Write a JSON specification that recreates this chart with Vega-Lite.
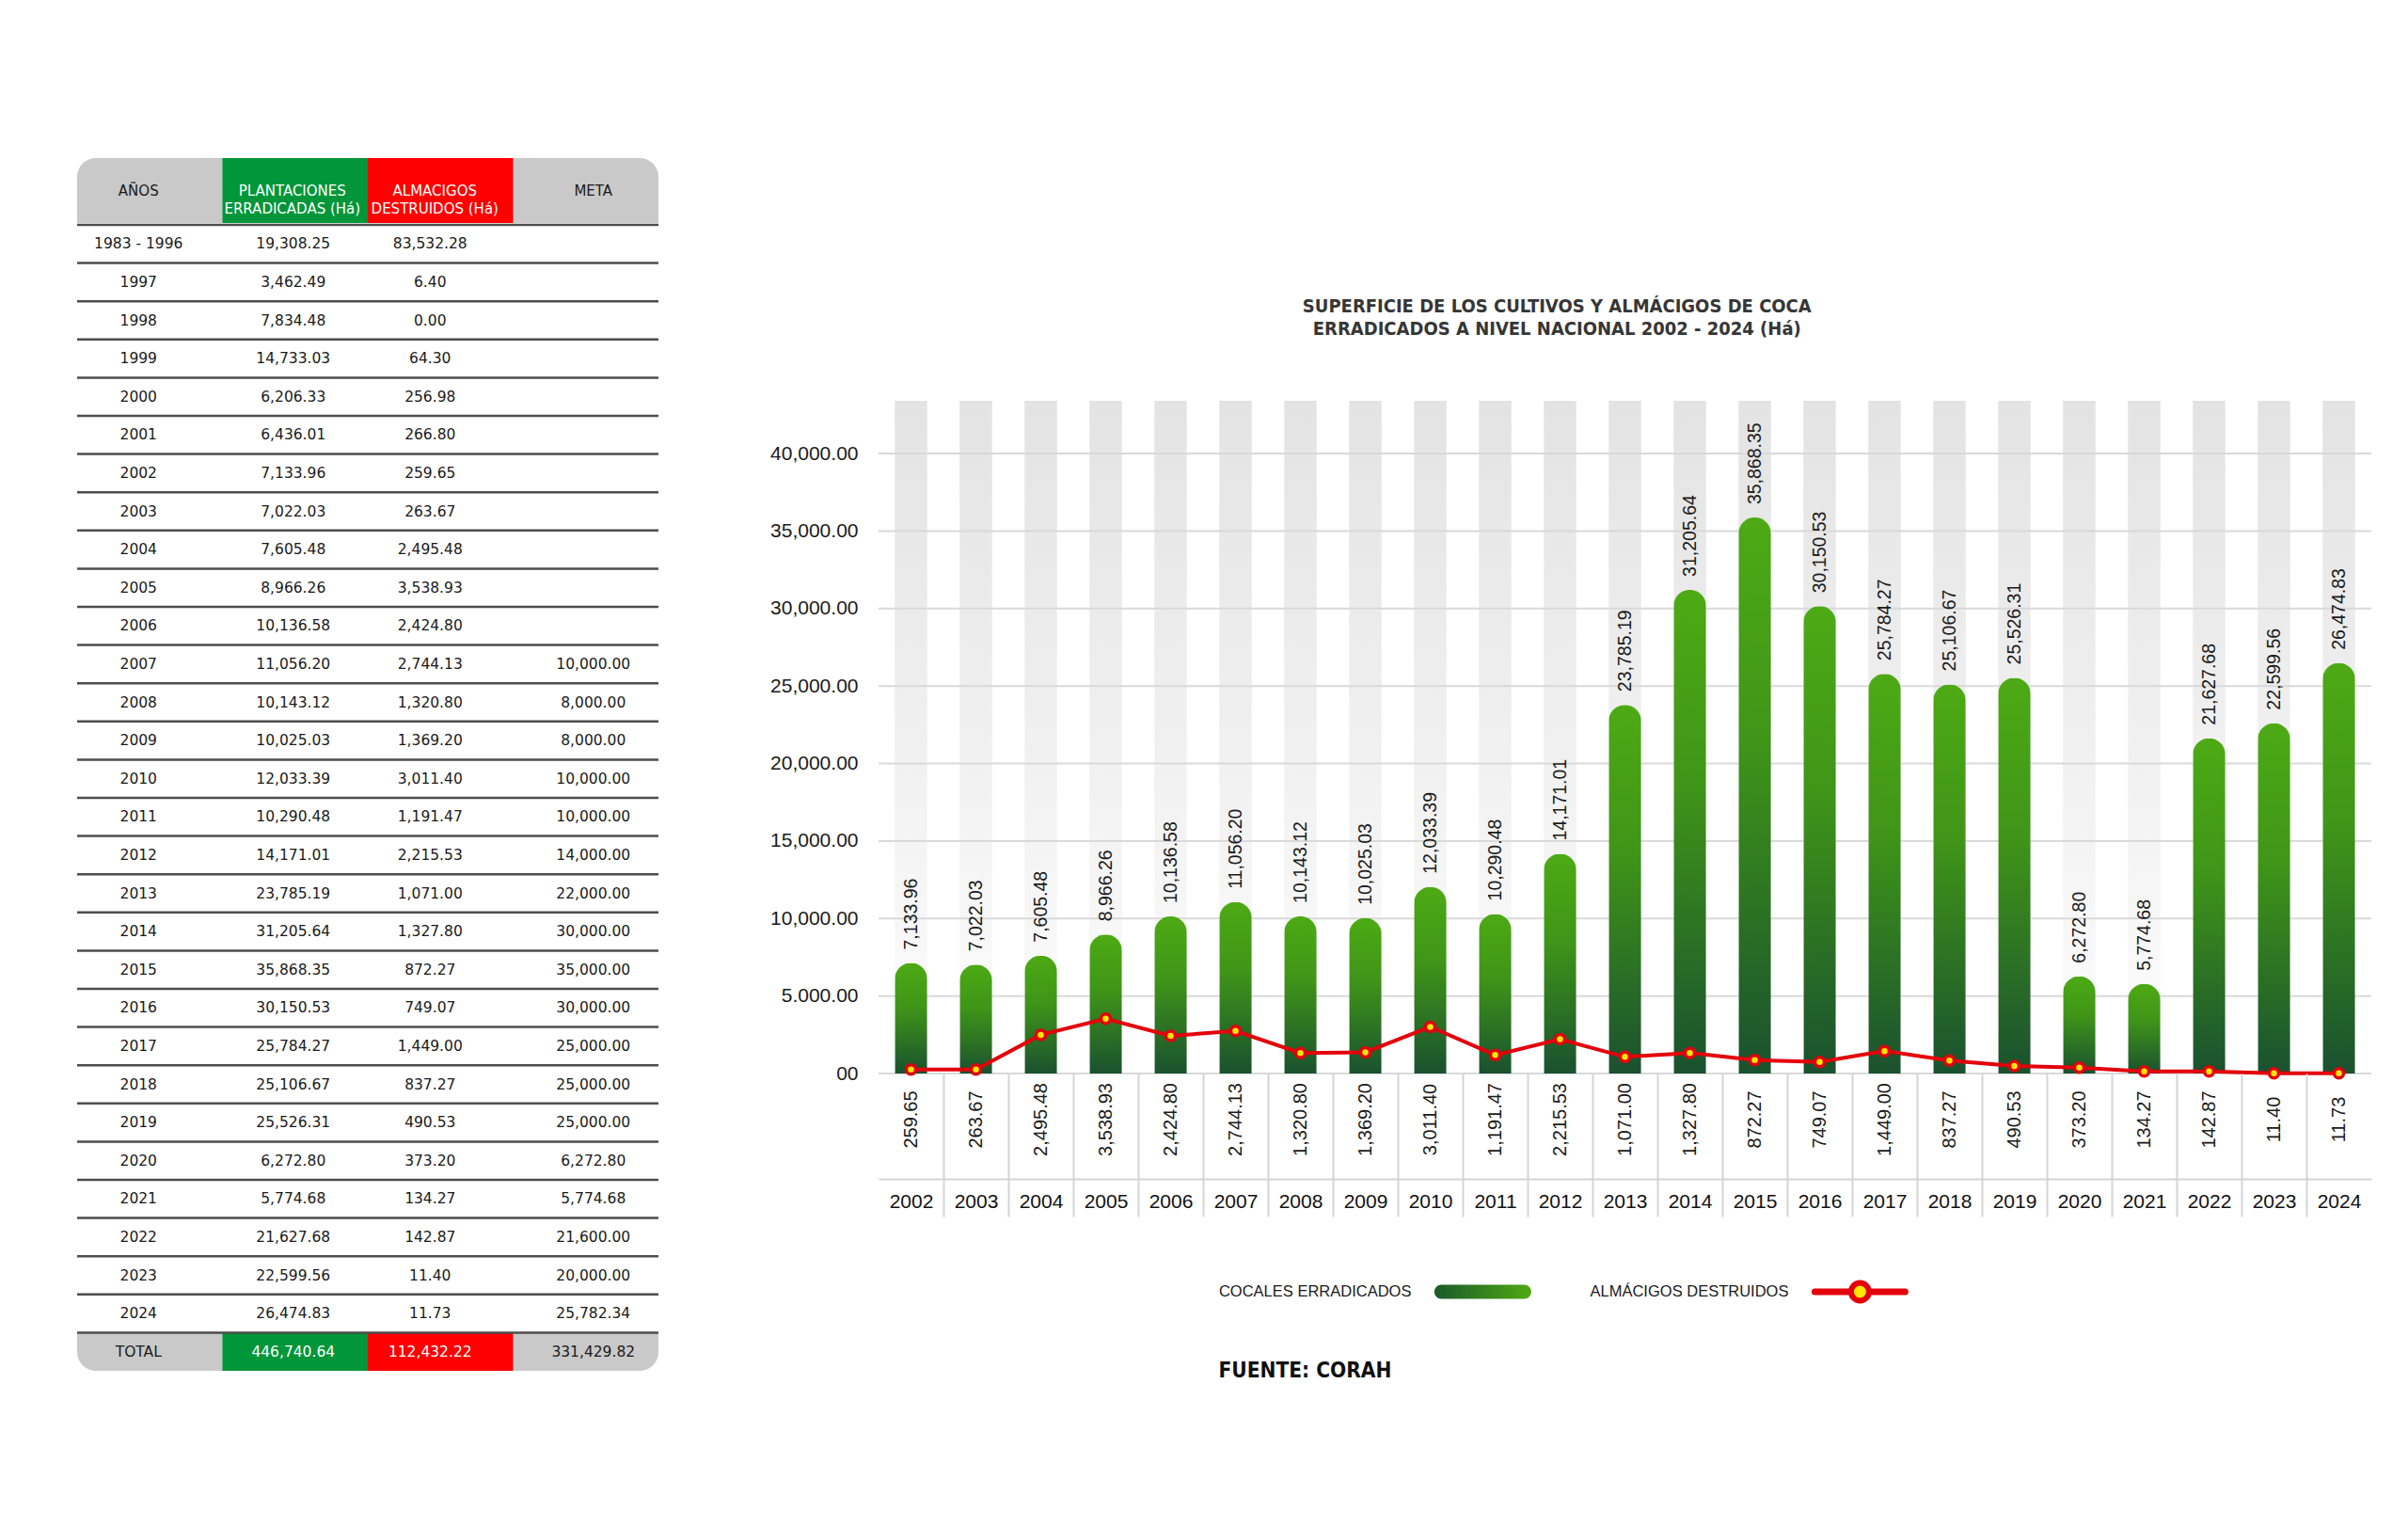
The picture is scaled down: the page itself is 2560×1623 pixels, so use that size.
{
  "$schema": "https://vega.github.io/schema/vega-lite/v6.json",
  "background": "white",
  "padding": {"top": 168, "left": 80, "right": 0, "bottom": 0},
  "config": {"view": {"stroke": null}},
  "datasets": {
    "tabla": [
      {"anio": "1983 - 1996", "plant": 19308.25, "alm": 83532.28, "meta": null},
      {"anio": "1997", "plant": 3462.49, "alm": 6.40, "meta": null},
      {"anio": "1998", "plant": 7834.48, "alm": 0.00, "meta": null},
      {"anio": "1999", "plant": 14733.03, "alm": 64.30, "meta": null},
      {"anio": "2000", "plant": 6206.33, "alm": 256.98, "meta": null},
      {"anio": "2001", "plant": 6436.01, "alm": 266.80, "meta": null},
      {"anio": "2002", "plant": 7133.96, "alm": 259.65, "meta": null},
      {"anio": "2003", "plant": 7022.03, "alm": 263.67, "meta": null},
      {"anio": "2004", "plant": 7605.48, "alm": 2495.48, "meta": null},
      {"anio": "2005", "plant": 8966.26, "alm": 3538.93, "meta": null},
      {"anio": "2006", "plant": 10136.58, "alm": 2424.80, "meta": null},
      {"anio": "2007", "plant": 11056.20, "alm": 2744.13, "meta": 10000},
      {"anio": "2008", "plant": 10143.12, "alm": 1320.80, "meta": 8000},
      {"anio": "2009", "plant": 10025.03, "alm": 1369.20, "meta": 8000},
      {"anio": "2010", "plant": 12033.39, "alm": 3011.40, "meta": 10000},
      {"anio": "2011", "plant": 10290.48, "alm": 1191.47, "meta": 10000},
      {"anio": "2012", "plant": 14171.01, "alm": 2215.53, "meta": 14000},
      {"anio": "2013", "plant": 23785.19, "alm": 1071.00, "meta": 22000},
      {"anio": "2014", "plant": 31205.64, "alm": 1327.80, "meta": 30000},
      {"anio": "2015", "plant": 35868.35, "alm": 872.27, "meta": 35000},
      {"anio": "2016", "plant": 30150.53, "alm": 749.07, "meta": 30000},
      {"anio": "2017", "plant": 25784.27, "alm": 1449.00, "meta": 25000},
      {"anio": "2018", "plant": 25106.67, "alm": 837.27, "meta": 25000},
      {"anio": "2019", "plant": 25526.31, "alm": 490.53, "meta": 25000},
      {"anio": "2020", "plant": 6272.80, "alm": 373.20, "meta": 6272.80},
      {"anio": "2021", "plant": 5774.68, "alm": 134.27, "meta": 5774.68},
      {"anio": "2022", "plant": 21627.68, "alm": 142.87, "meta": 21600},
      {"anio": "2023", "plant": 22599.56, "alm": 11.40, "meta": 20000},
      {"anio": "2024", "plant": 26474.83, "alm": 11.73, "meta": 25782.34},
      {"anio": "TOTAL", "plant": 446740.64, "alm": 112432.22, "meta": 331429.82}
    ]
  },
  "spacing": 116,
  "hconcat": [
    {
      "spacing": 0,
      "vconcat": [
        {
          "width": 618,
          "height": 69,
          "data": {"values": [
            {"c": "anio", "t": "AÑOS"},
            {"c": "plant", "t": "PLANTACIONES\nERRADICADAS (Há)"},
            {"c": "alm", "t": "ALMACIGOS\nDESTRUIDOS (Há)"},
            {"c": "meta", "t": "META"}
          ]},
          "layer": [
            {
              "transform": [{"filter": "datum.c == 'anio'"}],
              "mark": {"type": "rect", "color": "#c9c9c9", "cornerRadiusTopLeft": 20, "cornerRadiusTopRight": 20},
              "encoding": {}
            },
            {
              "transform": [{"filter": "datum.c == 'plant' || datum.c == 'alm'"}],
              "mark": {"type": "rect"},
              "encoding": {
                "x": {"field": "c", "type": "nominal", "sort": null, "scale": {"domain": ["anio", "plant", "alm", "meta"], "paddingInner": 0, "paddingOuter": 0}, "axis": null},
                "color": {"field": "c", "type": "nominal", "scale": {"domain": ["plant", "alm"], "range": ["#009639", "#ff0000"]}, "legend": null}
              }
            },
            {
              "transform": [{"filter": "datum.c == 'anio'"}],
              "mark": {"type": "text", "font": "DejaVu Sans", "fontSize": 15, "color": "#1a1a1a", "dx": -12},
              "encoding": {"x": {"field": "c", "type": "nominal", "sort": null}, "text": {"field": "t"}}
            },
            {
              "transform": [{"filter": "datum.c == 'plant'"}],
              "mark": {"type": "text", "lineBreak": "\n", "font": "DejaVu Sans", "fontSize": 15, "lineHeight": 19, "color": "#ffffff", "dx": -3},
              "encoding": {"x": {"field": "c", "type": "nominal", "sort": null}, "text": {"field": "t"}}
            },
            {
              "transform": [{"filter": "datum.c == 'alm'"}],
              "mark": {"type": "text", "lineBreak": "\n", "font": "DejaVu Sans", "fontSize": 15, "lineHeight": 19, "color": "#ffffff", "dx": -6},
              "encoding": {"x": {"field": "c", "type": "nominal", "sort": null}, "text": {"field": "t"}}
            },
            {
              "transform": [{"filter": "datum.c == 'meta'"}],
              "mark": {"type": "text", "font": "DejaVu Sans", "fontSize": 15, "color": "#1a1a1a", "dx": 8},
              "encoding": {"x": {"field": "c", "type": "nominal", "sort": null}, "text": {"field": "t"}}
            }
          ]
        },
        {
          "width": 618,
          "height": 1218,
          "data": {"name": "tabla"},
          "encoding": {
            "y": {"field": "anio", "type": "nominal", "sort": null, "axis": null,
              "scale": {"domain": ["1983 - 1996", "1997", "1998", "1999", "2000", "2001", "2002", "2003", "2004", "2005", "2006", "2007", "2008", "2009", "2010", "2011", "2012", "2013", "2014", "2015", "2016", "2017", "2018", "2019", "2020", "2021", "2022", "2023", "2024", "TOTAL"], "paddingInner": 0, "paddingOuter": 0}}
          },
          "layer": [
            {
              "transform": [{"filter": "datum.anio == 'TOTAL'"}],
              "mark": {"type": "rect", "color": "#c9c9c9", "cornerRadiusBottomLeft": 20, "cornerRadiusBottomRight": 20},
              "encoding": {}
            },
            {
              "transform": [{"filter": "datum.anio == 'TOTAL'"}, {"fold": ["plant", "alm"], "as": ["key", "val"]}],
              "mark": {"type": "rect"},
              "encoding": {
                "x": {"field": "key", "type": "nominal", "sort": null, "scale": {"domain": ["anio", "plant", "alm", "meta"], "paddingInner": 0, "paddingOuter": 0}, "axis": null},
                "color": {"field": "key", "type": "nominal", "scale": {"domain": ["plant", "alm"], "range": ["#009639", "#ff0000"]}, "legend": null}
              }
            },
            {
              "mark": {"type": "rule", "color": "#4d4d4d", "strokeWidth": 2.5},
              "encoding": {"y": {"field": "anio", "type": "nominal", "sort": null, "bandPosition": 0}}
            },
            {
              "mark": {"type": "text", "font": "DejaVu Sans", "fontSize": 15.5, "color": "#1a1a1a", "dx": -12},
              "encoding": {
                "x": {"datum": "anio", "type": "nominal"},
                "text": {"field": "anio"}
              }
            },
            {
              "transform": [{"fold": ["plant"], "as": ["key", "val"]}],
              "mark": {"type": "text", "font": "DejaVu Sans", "fontSize": 15.5, "dx": -2},
              "encoding": {
                "x": {"field": "key", "type": "nominal", "sort": null},
                "text": {"field": "val", "type": "quantitative", "format": ",.2f"},
                "color": {"condition": {"test": "datum.anio == 'TOTAL'", "value": "#ffffff"}, "value": "#1a1a1a"}
              }
            },
            {
              "transform": [{"fold": ["alm"], "as": ["key", "val"]}],
              "mark": {"type": "text", "font": "DejaVu Sans", "fontSize": 15.5, "dx": -11},
              "encoding": {
                "x": {"field": "key", "type": "nominal", "sort": null},
                "text": {"field": "val", "type": "quantitative", "format": ",.2f"},
                "color": {"condition": {"test": "datum.anio == 'TOTAL'", "value": "#ffffff"}, "value": "#1a1a1a"}
              }
            },
            {
              "transform": [{"fold": ["meta"], "as": ["key", "val"]}, {"filter": "isValid(datum.val)"}],
              "mark": {"type": "text", "font": "DejaVu Sans", "fontSize": 15.5, "dx": 8, "color": "#1a1a1a"},
              "encoding": {
                "x": {"field": "key", "type": "nominal", "sort": null},
                "text": {"field": "val", "type": "quantitative", "format": ",.2f"}
              }
            }
          ]
        }
      ]
    },
    {
      "spacing": 0,
      "bounds": "flush",
      "vconcat": [
        {
          "width": 1587,
          "height": 258,
          "data": {"values": []},
          "mark": {"type": "rect"},
          "encoding": {}
        },
        {
          "width": 1587,
          "height": 715,
          "title": {
            "text": ["SUPERFICIE DE LOS CULTIVOS Y ALMÁCIGOS DE COCA", "ERRADICADOS A NIVEL NACIONAL 2002 - 2024 (Há)"],
            "font": "Liberation Sans Narrow, DejaVu Sans Condensed, sans-serif",
            "fontWeight": "bold",
            "fontSize": 20,
            "lineHeight": 24,
            "color": "#363636",
            "anchor": "middle",
            "frame": "bounds",
            "dx": -15,
            "offset": 66
          },
          "data": {"name": "tabla"},
          "layer": [
            {
              "transform": [{"filter": "toNumber(datum.anio) >= 2002"}],
              "mark": {"type": "bar", "color": {"gradient": "linear", "x1": 0, "y1": 0, "x2": 0, "y2": 1, "stops": [{"offset": 0, "color": "#e3e3e3"}, {"offset": 1, "color": "#fdfdfd"}]}},
              "encoding": {
                "x": {"field": "anio", "type": "nominal", "sort": null, "scale": {"paddingInner": 0.5, "paddingOuter": 0.25}, "axis": null},
                "y": {"datum": 43400, "type": "quantitative", "scale": {"domain": [0, 43400], "nice": false, "zero": true},
                  "axis": {"title": null, "values": [0, 5000, 10000, 15000, 20000, 25000, 30000, 35000, 40000],
                    "labelExpr": "datum.value == 0 ? '00' : datum.value == 5000 ? '5.000.00' : format(datum.value, ',.2f')",
                    "grid": false, "domain": false, "ticks": false, "labelPadding": 22,
                    "labelFont": "Liberation Sans", "labelFontSize": 21, "labelColor": "#1a1a1a"}}
              }
            },
            {
              "data": {"values": [{"v": 0}, {"v": 5000}, {"v": 10000}, {"v": 15000}, {"v": 20000}, {"v": 25000}, {"v": 30000}, {"v": 35000}, {"v": 40000}]},
              "mark": {"type": "rule", "color": "#d9d9d9", "strokeWidth": 2},
              "encoding": {"y": {"field": "v", "type": "quantitative"}}
            },
            {
              "transform": [{"filter": "toNumber(datum.anio) >= 2002"}],
              "mark": {"type": "bar", "cornerRadiusTopLeft": 17, "cornerRadiusTopRight": 17,
                "color": {"gradient": "linear", "x1": 0, "y1": 0, "x2": 0, "y2": 1, "stops": [{"offset": 0, "color": "#4daa14"}, {"offset": 0.4, "color": "#3f9518"}, {"offset": 1, "color": "#1a512f"}]}},
              "encoding": {
                "x": {"field": "anio", "type": "nominal", "sort": null},
                "y": {"field": "plant", "type": "quantitative"}
              }
            },
            {
              "transform": [{"filter": "toNumber(datum.anio) >= 2002"}],
              "mark": {"type": "text", "angle": 270, "align": "left", "baseline": "middle", "dx": 14, "font": "Liberation Sans", "fontSize": 19.5, "color": "#1a1a1a"},
              "encoding": {
                "x": {"field": "anio", "type": "nominal", "sort": null},
                "y": {"field": "plant", "type": "quantitative"},
                "text": {"field": "plant", "type": "quantitative", "format": ",.2f"}
              }
            },
            {
              "transform": [{"filter": "toNumber(datum.anio) >= 2002"}],
              "mark": {"type": "line", "color": "#e3000b", "strokeWidth": 4},
              "encoding": {
                "x": {"field": "anio", "type": "nominal", "sort": null},
                "y": {"field": "alm", "type": "quantitative"}
              }
            },
            {
              "transform": [{"filter": "toNumber(datum.anio) >= 2002"}],
              "mark": {"type": "point", "filled": true, "fill": "#ffe600", "stroke": "#e3000b", "strokeWidth": 3.5, "size": 100, "opacity": 1},
              "encoding": {
                "x": {"field": "anio", "type": "nominal", "sort": null},
                "y": {"field": "alm", "type": "quantitative"}
              }
            }
          ]
        },
        {
          "width": 1587,
          "height": 112,
          "data": {"name": "tabla"},
          "transform": [{"filter": "toNumber(datum.anio) >= 2002"}],
          "mark": {"type": "text", "angle": 270, "dx": 7, "font": "Liberation Sans", "fontSize": 20, "color": "#1a1a1a"},
          "encoding": {
            "x": {"field": "anio", "type": "nominal", "sort": null, "scale": {"paddingInner": 0.5, "paddingOuter": 0.25},
              "axis": {"orient": "bottom", "title": null, "labelAngle": 0,
                "domain": true, "domainColor": "#d4d4d4", "domainWidth": 2,
                "ticks": true, "tickColor": "#d4d4d4", "tickWidth": 2, "tickSize": 40, "tickOffset": -34.5,
                "tickOpacity": {"condition": {"test": "datum.value == '2002'", "value": 0}, "value": 1},
                "grid": true, "gridColor": "#d4d4d4", "gridWidth": 2,
                "gridOpacity": {"condition": {"test": "datum.value == '2002'", "value": 0}, "value": 1},
                "labelOffset": 34.5, "labelPadding": -27, "labelBaseline": "top",
                "labelFont": "Liberation Sans", "labelFontSize": 21, "labelColor": "#111111", "labelOverlap": false}},
            "text": {"field": "alm", "type": "quantitative", "format": ",.2f"}
          }
        },
        {
          "width": 1203,
          "height": 246,
          "layer": [
            {
              "data": {"values": [{"k": "s1", "r": "leg", "label": "COCALES ERRADICADOS"}, {"k": "s2", "r": "leg", "label": "ALMÁCIGOS DESTRUIDOS"}]},
              "mark": {"type": "text", "align": "right", "dx": -76, "font": "Liberation Sans", "fontSize": 16.5, "color": "#1a1a1a"},
              "encoding": {
                "x": {"field": "k", "type": "nominal", "scale": {"type": "point", "domain": ["s1", "s2"], "padding": 1, "align": 0.801}, "axis": null},
                "y": {"field": "r", "type": "nominal", "scale": {"type": "band", "domain": ["leg", "src"], "paddingInner": 0, "paddingOuter": 0.464, "align": 1}, "axis": null},
                "text": {"field": "label"}
              }
            },
            {
              "data": {"values": [{"k": "s1", "r": "src", "label": "FUENTE: CORAH"}]},
              "mark": {"type": "text", "align": "left", "dx": -281, "font": "Liberation Sans Narrow, DejaVu Sans Condensed, sans-serif", "fontWeight": "bold", "fontSize": 22.5, "color": "#111111"},
              "encoding": {
                "x": {"field": "k", "type": "nominal"},
                "y": {"field": "r", "type": "nominal"},
                "text": {"field": "label"}
              }
            },
            {
              "data": {"values": [{"k": "s1", "r": "leg"}]},
              "mark": {"type": "rect", "width": 103, "height": 15, "cornerRadius": 7.5,
                "color": {"gradient": "linear", "x1": 0, "y1": 0, "x2": 1, "y2": 0, "stops": [{"offset": 0, "color": "#1a5a2b"}, {"offset": 1, "color": "#4ea912"}]}},
              "encoding": {
                "x": {"field": "k", "type": "nominal"},
                "y": {"field": "r", "type": "nominal"}
              }
            },
            {
              "data": {"values": [{"k": "s2", "r": "leg"}]},
              "mark": {"type": "point", "shape": "M-1,0L1,0", "size": 9216, "filled": false, "stroke": "#e3000b", "strokeWidth": 7, "strokeCap": "round", "opacity": 1},
              "encoding": {
                "x": {"field": "k", "type": "nominal"},
                "y": {"field": "r", "type": "nominal"}
              }
            },
            {
              "data": {"values": [{"k": "s2", "r": "leg"}]},
              "mark": {"type": "point", "shape": "circle", "size": 361, "filled": true, "fill": "#ffe600", "stroke": "#e3000b", "strokeWidth": 6, "opacity": 1},
              "encoding": {
                "x": {"field": "k", "type": "nominal"},
                "y": {"field": "r", "type": "nominal"}
              }
            }
          ]
        }
      ]
    }
  ]
}
